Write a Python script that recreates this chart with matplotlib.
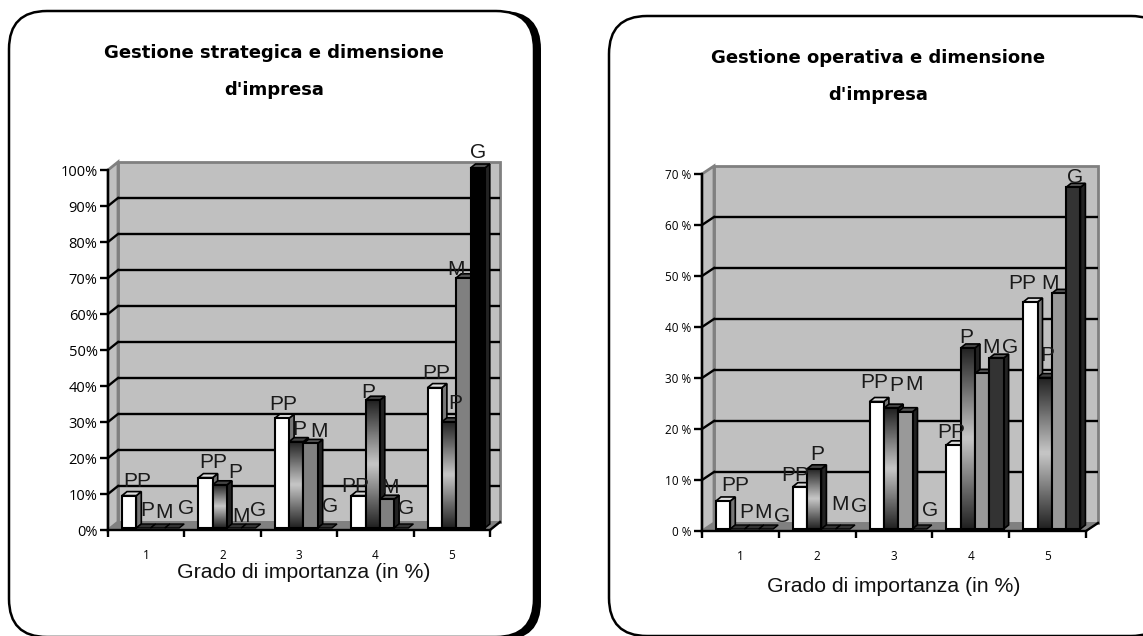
import numpy as np
import matplotlib
matplotlib.use('Agg')
import matplotlib.pyplot as plt
from matplotlib.colors import LinearSegmentedColormap
from matplotlib.patches import FancyBboxPatch, Polygon

W, H = 1143, 636
groups = ['1', '2', '3', '4', '5']
series = ['PP', 'P', 'M', 'G']

# values in %, one row per group, one column per series
strategica = [[9, 0, 0, 0],
              [14, 12, 0, 0],
              [30.5, 24, 23.5, 0],
              [9, 35.5, 8, 0],
              [39, 29.5, 69.5, 100]]
operativa = [[5.5, 0, 0, 0],
             [8.3, 11.8, 0, 0],
             [25, 23.7, 23, 0],
             [16.5, 35.5, 30.5, 33.5],
             [44.5, 29.7, 46.2, 67]]

# label shift from bar top, in pixels
strategica_off = [[(8, 14), (4, 18), (6, 16), (14, 19)],
                  [(8, 15), (15, 12), (7, 12), (10, 17)],
                  [(1, 14), (3, 12), (8, 12), (5, 21)],
                  [(-3, 9), (-4, 8), (3, 12), (5, 19)],
                  [(2, 14), (6, 18), (-7, 8), (0, 15)]]
operativa_off = [[(12, 15), (9, 17), (11, 16), (16, 12)],
                 [(-5, 11), (3, 14), (11, 25), (16, 23)],
                 [(-2, 19), (5, 23), (9, 27), (10, 18)],
                 [(-2, 12), (-2, 10), (9, 26), (14, 11)],
                 [(-8, 19), (3, 22), (-9, 10), (2, 10)]]


def draw_chart(fig, box, ymax, values, offs, colors, gradmid, depth, ylab_fmt, ylab_size):
    x0, y0, x1, y1 = box
    ax = fig.add_axes([x0 / W, 1 - y1 / H, (x1 - x0) / W, (y1 - y0) / H])
    ax.set_xlim(0, 5)
    ax.set_ylim(0, ymax)
    ax.patch.set_alpha(0)
    px = 5 / (x1 - x0)
    py = ymax / (y1 - y0)
    dx, dy = depth[0] * px, depth[1] * py

    # walls and floor
    ax.add_patch(Polygon([(dx, dy), (5 + dx, dy), (5 + dx, ymax + dy), (dx, ymax + dy)],
                         fc='#c0c0c0', ec='#808080', lw=2, clip_on=False, zorder=1))
    ax.add_patch(Polygon([(0, 0), (dx, dy), (dx, ymax + dy), (0, ymax)],
                         fc='#c0c0c0', ec='#808080', lw=2, clip_on=False, zorder=1))
    ax.add_patch(Polygon([(0, 0), (5, 0), (5 + dx, dy), (dx, dy)],
                         fc='#808080', ec='#808080', lw=1, clip_on=False, zorder=1.5))
    for v in np.arange(10, ymax, 10):
        ax.plot([dx, 5 + dx], [v + dy, v + dy], color='black', lw=1.7, clip_on=False,
                zorder=1.2, solid_capstyle='butt')
        ax.plot([0, dx], [v, v + dy], color='black', lw=1.7, clip_on=False, zorder=1.2)
    ax.plot([5, 5 + dx], [0, dy], color='black', lw=1.7, clip_on=False, zorder=1.6)

    # bars, drawn back to front from left to right
    cmap = LinearSegmentedColormap.from_list('bar', ['#222222', gradmid, '#222222'])
    grad = np.linspace(0, 1, 64).reshape(-1, 1)
    bw = 14.3 * px
    bd_x, bd_y = 5 * px, 4 * py
    lift = 2 * py
    for i, row in enumerate(values):
        for j, v in enumerate(row):
            xl = i + 14 * px + j * bw
            xr = xl + bw
            b = lift
            t = lift + v
            z = 2 + i + j * 0.1
            col = colors[j]
            if v == 0:
                ax.add_patch(Polygon([(xl, b), (xr, b), (xr + bd_x, b + bd_y), (xl + bd_x, b + bd_y)],
                                     fc='#333333', ec='black', lw=1, clip_on=False, zorder=z))
                continue
            top = '#dddddd' if col == 'white' else '#555555'
            side = '#777777' if col == 'white' else '#222222'
            if col == 'grad':
                top, side = '#444444', '#222222'
            ax.add_patch(Polygon([(xr, b), (xr + bd_x, b + bd_y), (xr + bd_x, t + bd_y), (xr, t)],
                                 fc=side, ec='black', lw=1.2, clip_on=False, zorder=z))
            ax.add_patch(Polygon([(xl, t), (xr, t), (xr + bd_x, t + bd_y), (xl + bd_x, t + bd_y)],
                                 fc=top, ec='black', lw=1.2, clip_on=False, zorder=z))
            if col == 'grad':
                ax.imshow(grad, extent=[xl, xr, b, t], aspect='auto', cmap=cmap, zorder=z,
                          clip_on=False, interpolation='bilinear')
                ax.add_patch(Polygon([(xl, b), (xr, b), (xr, t), (xl, t)], fc='none', ec='black',
                                     lw=1.5, clip_on=False, zorder=z + 0.01))
            else:
                ax.add_patch(Polygon([(xl, b), (xr, b), (xr, t), (xl, t)], fc=col, ec='black',
                                     lw=1.5, clip_on=False, zorder=z))
    ax.set_xlim(0, 5)
    ax.set_ylim(0, ymax)

    # data labels
    for i, row in enumerate(values):
        for j, v in enumerate(row):
            xc = i + 14 * px + (j + 0.5) * bw
            ax.annotate(series[j], (xc, v + lift), xytext=offs[i][j], textcoords='offset pixels',
                        ha='center', va='center', fontsize=15, family='Liberation Sans',
                        color='#1a1a1a', zorder=20, annotation_clip=False)

    for s in ['top', 'right']:
        ax.spines[s].set_visible(False)
    for s in ['left', 'bottom']:
        ax.spines[s].set_linewidth(1.7)
        ax.spines[s].set_zorder(15)
    ax.set_xticks(range(6))
    ax.set_xticklabels([])
    ax.set_xticks(np.arange(5) + 0.5, groups, minor=True)
    ax.tick_params(axis='x', which='major', length=5, width=1.7, direction='out')
    ax.tick_params(axis='x', which='minor', length=0, pad=14, labelsize=8.5)
    for lab in ax.get_xticklabels(minor=True):
        lab.set_family('Open Sans')
    yt = np.arange(0, ymax + 1, 10)
    ax.set_yticks(yt)
    ax.set_yticklabels([ylab_fmt % v for v in yt], family='Open Sans', fontsize=ylab_size)
    ax.tick_params(axis='y', length=6, width=1.7, direction='out', pad=1.5)
    return ax


fig = plt.figure(figsize=(W / 100, H / 100), dpi=100)
bg = fig.add_axes([0, 0, 1, 1])
bg.set_xlim(0, W)
bg.set_ylim(H, 0)
bg.axis('off')

# rounded panels
r = 38
bg.add_patch(FancyBboxPatch((9 + r + 6, 11 + r), 526 - 2 * r, 640 - 11 - 2 * r,
                            boxstyle='round,pad=%d' % r, fc='black', ec='black', lw=0))
bg.add_patch(FancyBboxPatch((9 + r, 11 + r), 525 - 2 * r, 636 - 11 - 2 * r + 1,
                            boxstyle='round,pad=%d' % r, fc='white', ec='black', lw=1.8))
bg.add_patch(FancyBboxPatch((609 + r, 16 + r), 560 - 2 * r, 620 - 2 * r + 0,
                            boxstyle='round,pad=%d' % r, fc='white', ec='black', lw=1.8))

title_font = dict(family='DejaVu Sans', fontweight='bold', fontsize=13, ha='center', va='center', color='black')
bg.text(274, 53, 'Gestione strategica e dimensione', **title_font)
bg.text(274, 90, "d'impresa", **title_font)
bg.text(878, 58, 'Gestione operativa e dimensione', **title_font)
bg.text(878, 95, "d'impresa", **title_font)

label_font = dict(family='Liberation Sans', fontsize=15.3, ha='center', va='center', color='#111111')
bg.text(304, 573, 'Grado di importanza (in %)', **label_font)
bg.text(894, 586, 'Grado di importanza (in %)', **label_font)

draw_chart(fig, (108, 170, 490, 530), 100, strategica, strategica_off,
           ['white', 'grad', '#808080', 'black'], '#c8c8c8', (10, 8), '%d%%', 10.5)
draw_chart(fig, (702, 174, 1086, 531), 70, operativa, operativa_off,
           ['white', 'grad', '#999999', '#333333'], '#c8c8c8', (12, 8), '%d %%', 8.5)

fig.savefig('out.png', dpi=100)
